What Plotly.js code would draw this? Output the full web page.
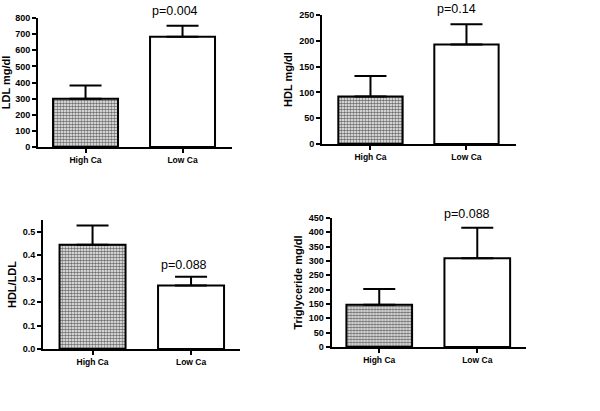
<!DOCTYPE html>
<html>
<head>
<meta charset="utf-8">
<script src="https://cdn.plot.ly/plotly-3.0.1.min.js"></script>
<style>html,body{margin:0;padding:0;background:#fff;}#chart{width:600px;height:411px;}</style>
</head>
<body>
<div id="chart"></div>
<script>
const categories = ['High Ca', 'Low Ca'];
const ldlMean = [300, 684];
const ldlErr = [82, 68];
const hdlMean = [92, 193];
const hdlErr = [40, 39];
const ratioMean = [0.444, 0.271];
const ratioErr = [0.083, 0.037];
const tgMean = [147, 310];
const tgErr = [55, 106];
const pLabels = ['p=0.004', 'p=0.14', 'p=0.088', 'p=0.088'];
const yTitles = ['LDL mg/dl', 'HDL mg/dl', 'HDL/LDL', 'Triglyceride mg/dl'];

const FONT = 'Arial, "Liberation Sans", sans-serif';

function barTrace(y, err, ax) {
  return {
    type: 'bar', x: categories, y: y,
    xaxis: 'x' + ax, yaxis: 'y' + ax,
    width: 0.67,
    marker: {
      color: ['#707070', '#ffffff'],
      line: {color: '#000', width: 2},
      pattern: {shape: ['.', ''], fgcolor: '#1a1a1a', bgcolor: '#9a9a9a', size: 3, solidity: 0.6}
    },
    error_y: {type: 'data', symmetric: false, array: err, arrayminus: [0, 0],
              color: '#000', thickness: 2, width: 16},
    showlegend: false, hoverinfo: 'none'
  };
}

const data = [
  barTrace(ldlMean, ldlErr, ''),
  barTrace(hdlMean, hdlErr, '2'),
  barTrace(ratioMean, ratioErr, '3'),
  barTrace(tgMean, tgErr, '4')
];

function xax(domain, range, anchor) {
  return {domain: domain, range: range, anchor: anchor, showgrid: false, zeroline: false,
    showline: true, linecolor: '#000', linewidth: 2, ticks: 'outside', ticklen: 4,
    tickwidth: 2, tickcolor: '#000', tickfont: {family: FONT, size: 8.5, color: '#000', weight: 'bold'},
    fixedrange: true};
}
function yax(domain, range, dtick, title, anchor, fmt) {
  return {domain: domain, range: range, anchor: anchor, dtick: dtick, tick0: 0,
    showgrid: false, zeroline: false, showline: true, linecolor: '#000', linewidth: 2,
    ticks: 'outside', ticklen: 4, tickwidth: 2, tickcolor: '#000', tickformat: fmt,
    tickfont: {family: FONT, size: 9, color: '#000', weight: 'bold'},
    title: {text: title, standoff: 4, font: {family: FONT, size: 11, color: '#000', weight: 'bold'}},
    fixedrange: true};
}

const pFont = {family: FONT, size: 12.5, color: '#000'};
const layout = {
  width: 600, height: 411,
  margin: {l: 0, r: 0, t: 0, b: 0},
  paper_bgcolor: '#fff', plot_bgcolor: 'rgba(0,0,0,0)',
  font: {family: FONT, color: '#000'},
  xaxis: xax([38/600, 232/600], [-0.49, 1.51], 'y'),
  yaxis: yax([1-147/411, 1-18/411], [0, 800], 100, yTitles[0], 'x', ''),
  xaxis2: xax([322/600, 516/600], [-0.505, 1.516], 'y2'),
  yaxis2: yax([1-144/411, 1-15/411], [0, 250], 50, yTitles[1], 'x2', ''),
  xaxis3: xax([43/600, 240/600], [-0.503, 1.497], 'y3'),
  yaxis3: yax([1-349/411, 1-220/411], [0, 0.55], 0.1, yTitles[2], 'x3', '.1f'),
  xaxis4: xax([331.5/600, 526/600], [-0.487, 1.497], 'y4'),
  yaxis4: yax([1-347/411, 1-218/411], [0, 450], 50, yTitles[3], 'x4', ''),
  annotations: [
    {text: pLabels[0], xref: 'x', yref: 'y domain', x: 'Low Ca', y: 1.054, xshift: -8, yanchor: 'middle', xanchor: 'center', showarrow: false, font: pFont},
    {text: pLabels[1], xref: 'x2', yref: 'y2 domain', x: 'Low Ca', y: 1.05, xshift: -10, yanchor: 'middle', xanchor: 'center', showarrow: false, font: pFont},
    {text: pLabels[2], xref: 'x3', yref: 'y3 domain', x: 'Low Ca', y: 0.655, xshift: -7, yanchor: 'middle', xanchor: 'center', showarrow: false, font: pFont},
    {text: pLabels[3], xref: 'x4', yref: 'y4 domain', x: 'Low Ca', y: 1.03, xshift: -10, yanchor: 'middle', xanchor: 'center', showarrow: false, font: pFont}
  ]
};

Plotly.newPlot('chart', data, layout, {displayModeBar: false, staticPlot: true});
</script>
</body>
</html>
